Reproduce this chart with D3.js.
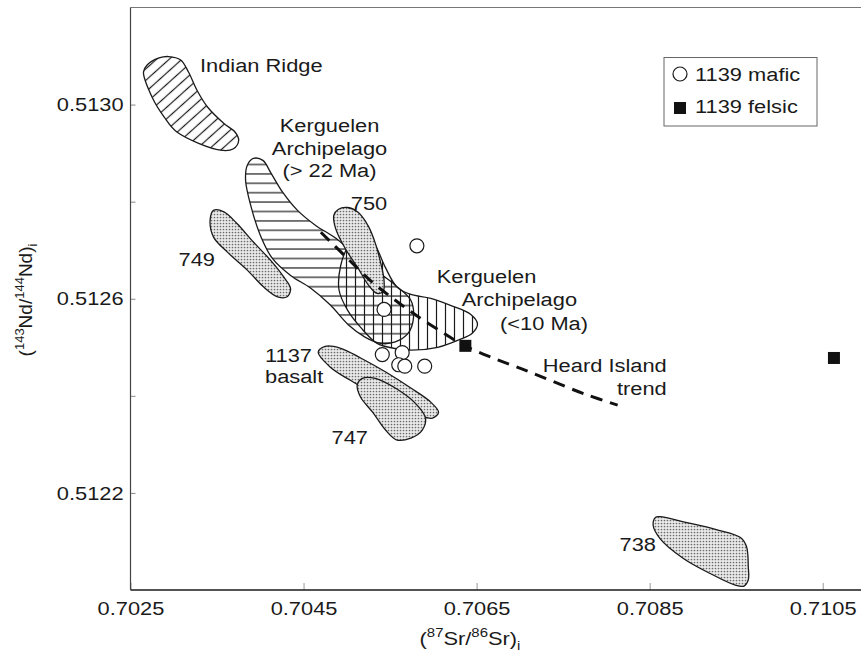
<!DOCTYPE html>
<html>
<head>
<meta charset="utf-8">
<script src="https://cdn.jsdelivr.net/npm/d3@7"></script>
<style>
body { margin: 0; background: #fff; }
text { font-family: "Liberation Sans", Arial, Helvetica, sans-serif; fill: #1a1a1a; }
</style>
</head>
<body>
<script>
// axis ticks
var xTicks = [0.7025, 0.7045, 0.7065, 0.7085, 0.7105];
var yTicks = [0.5122, 0.5124, 0.5126, 0.5128, 0.5130];
var yLabels = [0.5122, 0.5126, 0.5130];

// ODP 1139 samples [87Sr/86Sr, 143Nd/144Nd]
var maficPoints = [[0.70581, 0.512709], [0.70543, 0.512578], [0.70541, 0.512485], [0.70564, 0.512489],
                   [0.70560, 0.512464], [0.70567, 0.512461], [0.70590, 0.512461]];
var felsicPoints = [[0.70637, 0.512503], [0.71063, 0.512478]];

// Heard Island trend
var heardTrend = [[0.70470, 0.512737], [0.70498, 0.512688], [0.70527, 0.512638], [0.70556, 0.512597],
                  [0.70585, 0.512560], [0.70614, 0.512527], [0.70635, 0.512504], [0.70666, 0.512480],
                  [0.70700, 0.512457], [0.70735, 0.512432], [0.70776, 0.512403], [0.70813, 0.512381]];

// field outlines
var indianRidge = [[0.70294, 0.513099], [0.70308, 0.513092], [0.70317, 0.513067], [0.70327, 0.513029],
                   [0.70339, 0.512995], [0.70358, 0.512961], [0.70371, 0.512943], [0.70375, 0.512926],
                   [0.70369, 0.512909], [0.70354, 0.512906], [0.70304, 0.512943], [0.70289, 0.512974],
                   [0.70275, 0.513015], [0.70265, 0.513067], [0.70269, 0.513081], [0.70283, 0.513096]];
var kergOld = [[0.70392, 0.512889], [0.70403, 0.512885], [0.70412, 0.512860], [0.70426, 0.512819],
               [0.70443, 0.512782], [0.70464, 0.512751], [0.70487, 0.512725], [0.70510, 0.512690],
               [0.70533, 0.512659], [0.70556, 0.512628], [0.70574, 0.512597], [0.70577, 0.512560],
               [0.70571, 0.512529], [0.70556, 0.512511], [0.70539, 0.512508], [0.70521, 0.512521],
               [0.70502, 0.512546], [0.70481, 0.512587], [0.70458, 0.512622], [0.70435, 0.512648],
               [0.70414, 0.512683], [0.70400, 0.512731], [0.70389, 0.512792], [0.70383, 0.512844],
               [0.70385, 0.512875]];
var kergYoung = [[0.70522, 0.512737], [0.70533, 0.512710], [0.70545, 0.512663], [0.70558, 0.512624],
                 [0.70574, 0.512609], [0.70597, 0.512601], [0.70622, 0.512585], [0.70643, 0.512568],
                 [0.70651, 0.512548], [0.70645, 0.512529], [0.70629, 0.512515], [0.70605, 0.512500],
                 [0.70574, 0.512494], [0.70554, 0.512498], [0.70535, 0.512508], [0.70516, 0.512541],
                 [0.70501, 0.512576], [0.70491, 0.512618], [0.70493, 0.512669], [0.70502, 0.512710],
                 [0.70511, 0.512729]];
var site749 = [[0.70346, 0.512782], [0.70342, 0.512762], [0.70346, 0.512727], [0.70362, 0.512696],
               [0.70385, 0.512659], [0.70404, 0.512624], [0.70420, 0.512604], [0.70431, 0.512604],
               [0.70435, 0.512621], [0.70427, 0.512645], [0.70412, 0.512679], [0.70392, 0.512717],
               [0.70373, 0.512755], [0.70358, 0.512779]];
var site750 = [[0.70501, 0.512788], [0.70490, 0.512784], [0.70485, 0.512772], [0.70487, 0.512745],
               [0.70498, 0.512704], [0.70513, 0.512663], [0.70525, 0.512628], [0.70535, 0.512611],
               [0.70542, 0.512615], [0.70543, 0.512638], [0.70539, 0.512675], [0.70533, 0.512714],
               [0.70525, 0.512749], [0.70513, 0.512778]];
var site1137 = [[0.70467, 0.512490], [0.70475, 0.512502], [0.70493, 0.512498], [0.70516, 0.512478],
                [0.70545, 0.512449], [0.70574, 0.512416], [0.70597, 0.512387], [0.70606, 0.512366],
                [0.70599, 0.512354], [0.70583, 0.512360], [0.70556, 0.512381], [0.70530, 0.512405],
                [0.70504, 0.512432], [0.70481, 0.512459]];
var site747 = [[0.70512, 0.512422], [0.70518, 0.512436], [0.70533, 0.512436], [0.70556, 0.512416],
               [0.70579, 0.512385], [0.70591, 0.512354], [0.70587, 0.512329], [0.70574, 0.512313],
               [0.70558, 0.512309], [0.70545, 0.512329], [0.70530, 0.512366], [0.70516, 0.512397]];
var site738 = [[0.70857, 0.512150], [0.70862, 0.512151], [0.70893, 0.512139], [0.70928, 0.512124],
               [0.70955, 0.512108], [0.70962, 0.512089], [0.70964, 0.512048], [0.70964, 0.512021],
               [0.70959, 0.512008], [0.70949, 0.512010], [0.70920, 0.512034], [0.70889, 0.512065],
               [0.70862, 0.512106], [0.70854, 0.512134]];

var screen = {width: 861, height: 661};
var stretch = 1.15; // text in the figure is a bit wide

var svg = d3.select("body")
            .append("svg")
            .attr("width", screen.width)
            .attr("height", screen.height);

var x = d3.scaleLinear().domain([0.7025, 0.7105]).range([130.5, 822.7]);
var y = d3.scaleLinear().domain([0.5120, 0.5132]).range([590, 7.5]);

// patterns
var defs = svg.append("defs");

var hatch = function(id, angle, gap) {
  var p = defs.append("pattern")
              .attr("id", id)
              .attr("patternUnits", "userSpaceOnUse")
              .attr("width", 20)
              .attr("height", gap)
              .attr("patternTransform", "rotate(" + angle + ")");
  p.append("line")
   .attr("x1", 0).attr("y1", gap / 2)
   .attr("x2", 20).attr("y2", gap / 2)
   .attr("stroke", "#1a1a1a")
   .attr("stroke-width", 1.2);
}
hatch("diag", -42, 8.5);
hatch("horiz", 0, 9.4);
hatch("vert", 90, 9);

var dots = defs.append("pattern")
               .attr("id", "dots")
               .attr("patternUnits", "userSpaceOnUse")
               .attr("width", 3)
               .attr("height", 3);
dots.append("rect").attr("width", 3).attr("height", 3).attr("fill", "#eaeaea");
dots.append("circle").attr("cx", 1.5).attr("cy", 1.5).attr("r", 0.85).attr("fill", "#6a6a6a");

// frame
svg.append("line")
   .attr("x1", x(0.7025)).attr("y1", y(0.5132))
   .attr("x2", screen.width).attr("y2", y(0.5132))
   .attr("stroke", "#777").attr("stroke-width", 1);

var xAxis = d3.axisBottom(x)
              .tickValues(xTicks)
              .tickSizeInner(-7)
              .tickSizeOuter(0)
              .tickPadding(12)
              .tickFormat(d3.format(".4f"));

var gx = svg.append("g")
            .attr("transform", "translate(0," + y(0.5120) + ")")
            .call(xAxis);
gx.select(".domain").remove();
gx.selectAll("line").attr("stroke", "#999");
gx.selectAll("text")
  .attr("font-size", 19)
  .attr("transform", "scale(" + stretch + ",1)")
  .attr("fill", "#1a1a1a");
gx.append("line")
  .attr("x1", x(0.7025)).attr("x2", screen.width)
  .attr("stroke", "#1a1a1a").attr("stroke-width", 1.6);

var yAxis = d3.axisLeft(y)
              .tickValues(yTicks)
              .tickSizeInner(-5)
              .tickSizeOuter(0)
              .tickPadding(6)
              .tickFormat(function(d) {
                return yLabels.some(function(v) { return Math.abs(v - d) < 1e-7; }) ? d3.format(".4f")(d) : "";
              });

var gy = svg.append("g")
            .attr("transform", "translate(" + x(0.7025) + ",0)")
            .call(yAxis);
gy.select(".domain").remove();
gy.selectAll("line").attr("stroke", "#888");
gy.selectAll("text")
  .attr("font-size", 19)
  .attr("transform", "scale(" + stretch + ",1)")
  .attr("fill", "#1a1a1a");
gy.append("line")
  .attr("y1", y(0.5132)).attr("y2", y(0.5120))
  .attr("stroke", "#444").attr("stroke-width", 1.2);

// fields
var outline = d3.line()
                .x(function(d) { return x(d[0]); })
                .y(function(d) { return y(d[1]); })
                .curve(d3.curveCatmullRomClosed.alpha(0.5));

var fields = [
  {pts: indianRidge, fill: "url(#diag)"},
  {pts: kergOld, fill: "url(#horiz)"},
  {pts: kergYoung, fill: "url(#vert)"},
  {pts: site749, fill: "url(#dots)"},
  {pts: site750, fill: "url(#dots)"},
  {pts: site1137, fill: "url(#dots)"},
  {pts: site747, fill: "url(#dots)"},
  {pts: site738, fill: "url(#dots)"}
];

svg.append("g")
   .selectAll("path")
   .data(fields)
   .enter()
   .append("path")
   .attr("d", function(d) { return outline(d.pts); })
   .attr("fill", function(d) { return d.fill; })
   .attr("stroke", "#1a1a1a")
   .attr("stroke-width", 1.3);

// Heard Island trend
svg.append("path")
   .attr("d", d3.line()
                .x(function(d) { return x(d[0]); })
                .y(function(d) { return y(d[1]); })
                .curve(d3.curveCatmullRom.alpha(0.5))(heardTrend))
   .attr("fill", "none")
   .attr("stroke", "#111")
   .attr("stroke-width", 3)
   .attr("stroke-dasharray", "12,8");

// samples
svg.append("g")
   .selectAll("circle")
   .data(maficPoints)
   .enter()
   .append("circle")
   .attr("cx", function(d) { return x(d[0]); })
   .attr("cy", function(d) { return y(d[1]); })
   .attr("r", 7)
   .attr("fill", "white")
   .attr("stroke", "#1a1a1a")
   .attr("stroke-width", 1.2);

svg.append("g")
   .selectAll("rect")
   .data(felsicPoints)
   .enter()
   .append("rect")
   .attr("x", function(d) { return x(d[0]) - 6; })
   .attr("y", function(d) { return y(d[1]) - 6; })
   .attr("width", 12)
   .attr("height", 12)
   .attr("fill", "#111");

// labels
var label = function(px, py, str, anchor) {
  svg.append("text")
     .attr("transform", "translate(" + px + "," + py + ") scale(" + stretch + ",1)")
     .attr("text-anchor", anchor || "start")
     .attr("font-size", 19)
     .text(str);
}

label(200, 71.5, "Indian Ridge");
label(329.5, 131.5, "Kerguelen", "middle");
label(329.5, 154.5, "Archipelago", "middle");
label(329.5, 177, "(> 22 Ma)", "middle");
label(369, 210, "750", "middle");
label(215, 266, "749", "end");
label(436.7, 283.3, "Kerguelen");
label(461.7, 305.5, "Archipelago");
label(500, 329.5, "(<10 Ma)");
label(666.7, 371.7, "Heard Island", "end");
label(666.7, 395, "trend", "end");
label(265, 361.7, "1137");
label(265, 383.3, "basalt");
label(368, 444, "747", "end");
label(656, 551, "738", "end");

// legend
var legend = svg.append("g");
legend.append("rect")
      .attr("x", 664).attr("y", 57.5)
      .attr("width", 153).attr("height", 68.5)
      .attr("fill", "white")
      .attr("stroke", "#666")
      .attr("stroke-width", 1);
legend.append("circle")
      .attr("cx", 680).attr("cy", 74).attr("r", 7)
      .attr("fill", "white").attr("stroke", "#1a1a1a").attr("stroke-width", 1.2);
legend.append("rect")
      .attr("x", 674).attr("y", 102).attr("width", 12).attr("height", 12)
      .attr("fill", "#111");
label(695, 80.5, "1139 mafic");
label(695, 112.5, "1139 felsic");

// axis titles
var xt = svg.append("text")
            .attr("transform", "translate(470,645) scale(" + stretch + ",1)")
            .attr("text-anchor", "middle")
            .attr("font-size", 19);
xt.append("tspan").text("(");
xt.append("tspan").attr("font-size", 13).attr("dy", -8).text("87");
xt.append("tspan").attr("dy", 8).text("Sr/");
xt.append("tspan").attr("font-size", 13).attr("dy", -8).text("86");
xt.append("tspan").attr("dy", 8).text("Sr)");
xt.append("tspan").attr("font-size", 13).attr("dy", 5).text("i");

var yt = svg.append("text")
            .attr("transform", "translate(32,300) rotate(-90)")
            .attr("text-anchor", "middle")
            .attr("font-size", 19);
yt.append("tspan").text("(");
yt.append("tspan").attr("font-size", 13).attr("dy", -8).text("143");
yt.append("tspan").attr("dy", 8).text("Nd/");
yt.append("tspan").attr("font-size", 13).attr("dy", -8).text("144");
yt.append("tspan").attr("dy", 8).text("Nd)");
yt.append("tspan").attr("font-size", 13).attr("dy", 5).text("i");
</script>
</body>
</html>
